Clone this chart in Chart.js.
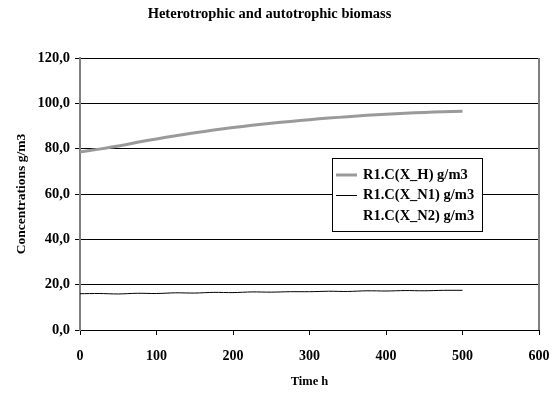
<!DOCTYPE html>
<html>
<head>
<meta charset="utf-8">
<script src="https://cdn.jsdelivr.net/npm/chart.js@4.4.0/dist/chart.umd.min.js"></script>
<style>
  body { margin: 0; background: #fff; }
</style>
</head>
<body>
<canvas id="chart" width="555" height="394"></canvas>
<script>
var time = [0, 25, 50, 75, 100, 125, 150, 175, 200, 225, 250, 275, 300, 325, 350, 375, 400, 425, 450, 475, 500];
var xH = [78.5, 79.8, 81.2, 82.8, 84.3, 85.7, 87.0, 88.2, 89.3, 90.3, 91.2, 92.0, 92.8, 93.5, 94.1, 94.7, 95.2, 95.6, 96.0, 96.3, 96.5];
var xN1 = [16.0, 16.1, 15.9, 16.2, 16.1, 16.4, 16.3, 16.6, 16.5, 16.8, 16.7, 16.9, 16.9, 17.1, 17.0, 17.3, 17.2, 17.4, 17.3, 17.5, 17.5];
var xN2 = [16.0, 16.0, 16.1, 16.1, 16.2, 16.3, 16.4, 16.5, 16.6, 16.7, 16.8, 16.9, 17.0, 17.0, 17.1, 17.2, 17.2, 17.3, 17.4, 17.4, 17.5];
var labels = ['R1.C(X_H) g/m3', 'R1.C(X_N1) g/m3', 'R1.C(X_N2) g/m3'];

var serif = 'Liberation Serif, Times New Roman, serif';

function toPoints(ys) {
  return time.map(function (t, i) { return { x: t, y: ys[i] }; });
}

// legend box drawn inside the plot, like the original
var boxLegend = {
  id: 'boxLegend',
  afterDraw: function (chart) {
    var ctx = chart.ctx;
    var area = chart.chartArea;
    // right border of the plot
    ctx.save();
    ctx.strokeStyle = '#808080';
    ctx.lineWidth = 2;
    ctx.beginPath();
    ctx.moveTo(area.right, area.top);
    ctx.lineTo(area.right, area.bottom);
    ctx.stroke();

    var bx = 332, by = 158, bw = 150, bh = 73;
    ctx.fillStyle = '#fff';
    ctx.fillRect(bx, by, bw, bh);
    ctx.strokeStyle = '#000';
    ctx.lineWidth = 1;
    ctx.strokeRect(bx + 0.5, by + 0.5, bw, bh);
    ctx.font = 'bold 14.5px ' + serif;
    ctx.textBaseline = 'middle';
    ctx.fillStyle = '#000';
    chart.data.datasets.forEach(function (ds, i) {
      var y = by + 17 + i * 20.5;
      ctx.strokeStyle = ds.borderColor;
      ctx.lineWidth = ds.borderWidth;
      ctx.beginPath();
      ctx.moveTo(bx + 4, y);
      ctx.lineTo(bx + 25, y);
      ctx.stroke();
      ctx.fillText(ds.label, bx + 31, y);
    });
    ctx.restore();
  }
};

new Chart(document.getElementById('chart'), {
  type: 'line',
  data: {
    datasets: [
      { label: labels[0], data: toPoints(xH), borderColor: '#9a9a9a', borderWidth: 3, pointRadius: 0, tension: 0.3, fill: false },
      { label: labels[1], data: toPoints(xN1), borderColor: '#000000', borderWidth: 1, pointRadius: 0, tension: 0.3, fill: false },
      { label: labels[2], data: toPoints(xN2), borderColor: 'rgba(255,255,255,0)', borderWidth: 1, pointRadius: 0, tension: 0.3, fill: false }
    ]
  },
  options: {
    responsive: false,
    animation: false,
    layout: { padding: { left: 0, right: 16, top: 0, bottom: 0 } },
    plugins: {
      legend: { display: false },
      tooltip: { enabled: false },
      title: {
        display: true,
        text: 'Heterotrophic and autotrophic biomass',
        color: '#000',
        font: { family: serif, size: 14.5, weight: 'bold' },
        padding: { top: 6, bottom: 34.6 }
      }
    },
    scales: {
      x: {
        type: 'linear',
        min: 0,
        max: 600,
        ticks: { stepSize: 100, color: '#000', padding: 13, font: { family: serif, size: 14, weight: 'bold' } },
        grid: { drawOnChartArea: false, tickLength: 5, color: '#000' },
        border: { color: '#000', width: 1 },
        title: { display: true, text: 'Time h', color: '#000', font: { family: serif, size: 12.5, weight: 'bold' }, padding: { top: 4, bottom: 5 } },
        afterFit: function (s) { s.height = 64; s.paddingLeft = 0; s.paddingRight = 0; }
      },
      y: {
        min: 0,
        max: 120,
        ticks: {
          stepSize: 20,
          color: '#000',
          padding: 5,
          font: { family: serif, size: 14.5, weight: 'bold' },
          callback: function (v) { return v.toFixed(1).replace('.', ','); }
        },
        grid: { color: '#000', lineWidth: 1, tickLength: 5 },
        border: { color: '#808080', width: 2 },
        title: { display: true, text: 'Concentrations g/m3', color: '#000', font: { family: serif, size: 13.5, weight: 'bold' }, padding: { top: 13, bottom: 0 } },
        afterFit: function (s) { s.width = 80; s.paddingTop = 0; s.paddingBottom = 0; }
      }
    }
  },
  plugins: [boxLegend]
});
</script>
</body>
</html>
